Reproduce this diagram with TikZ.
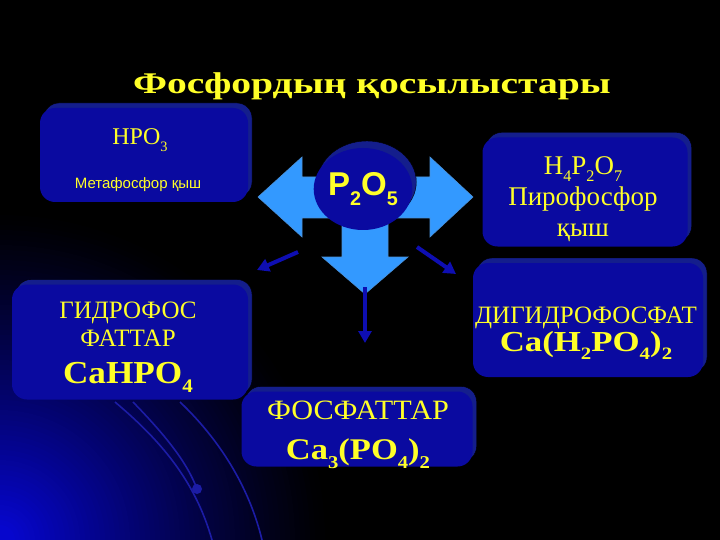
\documentclass[tikz,border=0pt]{standalone}
\usepackage{fontspec}
\setmainfont{Liberation Serif}
\setsansfont{Liberation Sans}
\usepackage{graphicx}
\usetikzlibrary{shapes.geometric,shadows,arrows.meta}

\definecolor{boxblue}{RGB}{10,10,160}
\definecolor{shadeblue}{RGB}{20,30,140}
\definecolor{arrowblue}{RGB}{51,153,255}
\definecolor{darkarrow}{RGB}{14,14,178}
\definecolor{textyellow}{RGB}{255,255,40}
\definecolor{glowblue}{RGB}{6,6,205}
\definecolor{lineblue}{RGB}{28,28,165}

\newcommand{\chsub}[1]{\raisebox{-0.28em}{\scalebox{0.6}{#1}}}
\newcommand{\wide}[2]{\scalebox{#1}[1]{#2}}

\tikzset{
  box/.style={rectangle, rounded corners=15pt, fill=boxblue, inner sep=0pt,
    copy shadow={shadow xshift=4pt, shadow yshift=5pt, fill=shadeblue}},
  boxtext/.style={text=textyellow, align=center, inner sep=0pt},
  smallarrow/.style={darkarrow, line width=4pt, -{Triangle[length=12pt,width=13pt]}},
  decoline/.style={lineblue, line width=1.6pt}
}

\begin{document}
\begin{tikzpicture}[x=1pt,y=-1pt]
\useasboundingbox (0,0) rectangle (720,540);
\fill[black] (0,0) rectangle (720,540);
% glow in the lower left corner
\begin{scope}
\clip (0,0) rectangle (720,540);
\foreach \i in {0,...,63} {
  \pgfmathsetmacro{\rad}{330-5*\i}
  \pgfmathsetmacro{\pct}{100*(\i/63)^1.2}
  \fill[glowblue!\pct!black] (0,540) circle[radius=\rad pt];
}
\end{scope}

% background lines
\draw[decoline] (115,402) .. controls (160,440) and (195,480) .. (212,540);
\draw[decoline] (133,402) .. controls (165,435) and (187,462) .. (197,489);
\draw[decoline] (180,402) .. controls (222,442) and (250,490) .. (262,540);
\fill[lineblue] (197,489) circle[radius=5pt];

% title
\node[text=textyellow, font=\bfseries\fontsize{30}{34}\selectfont] (title) at (372,86)
  {\wide{1.32}{Фосфордың қосылыстары}};

% boxes
\node[box, minimum width=208pt, minimum height=94pt] (hpo) at (144,155) {};
\node[box, minimum width=205pt, minimum height=109pt] (pyro) at (585,192) {};
\node[box, minimum width=236pt, minimum height=115pt] (hydro) at (130,342) {};
\node[box, minimum width=231pt, minimum height=75pt] (phos) at (357,429) {};
\node[box, minimum width=230pt, minimum height=114pt] (dihydro) at (588,320) {};

% three-way arrow
\filldraw[fill=arrowblue, draw=arrowblue!70!gray, line width=0.6pt]
  (258,197) -- (302,157) -- (302,177) -- (430,177) -- (430,157) -- (473,197)
  -- (430,237) -- (430,218) -- (388,218) -- (388,257) -- (408,257) -- (365,294)
  -- (322,257) -- (342,257) -- (342,218) -- (302,218) -- (302,237) -- cycle;

\node[ellipse, fill=boxblue, minimum width=98pt, minimum height=82pt, inner sep=0pt,
  copy shadow={shadow xshift=4pt, shadow yshift=7pt, fill=shadeblue},
  text=textyellow, font=\sffamily\bfseries\fontsize{33}{36}\selectfont]
  (oxide) at (363,189) {P\chsub{2}O\chsub{5}};

% small arrows
\coordinate (lefttail) at (298,252);
\coordinate (lefthead) at (257,270);
\coordinate (righttail) at (417,247);
\coordinate (righthead) at (456,274);
\coordinate (downtail) at (365,287);
\coordinate (downhead) at (365,343);
\draw[smallarrow] (lefttail) -- (lefthead);
\draw[smallarrow] (righttail) -- (righthead);
\draw[smallarrow] (downtail) -- (downhead);

% texts
\node[boxtext, font=\fontsize{24}{28}\selectfont] (hpoformula) at (140,140) {HPO\chsub{3}};
\node[boxtext, font=\sffamily\fontsize{15}{18}\selectfont] (hponame) at (138,185) {Метафосфор қыш};
\node[boxtext, font=\fontsize{27}{31}\selectfont] (pyrotext) at (583,199)
  {H\chsub{4}P\chsub{2}O\chsub{7}\\Пирофосфор\\қыш};
\node[boxtext, font=\fontsize{25}{28}\selectfont] (hydrotext) at (128,347)
  {ГИДРОФОС\\ФАТТАР\\[9pt]{\bfseries\fontsize{32}{28}\selectfont\wide{1.1}{CaHPO\chsub{4}}}};
\node[boxtext, font=\fontsize{28}{30}\selectfont] (phostext) at (358,435)
  {\wide{1.08}{ФОСФАТТАР}\\[10pt]{\bfseries\fontsize{30}{30}\selectfont\wide{1.15}{Ca\chsub{3}(PO\chsub{4})\chsub{2}}}};
\node[boxtext, font=\fontsize{25}{26}\selectfont] (dihydrotext) at (586,333)
  {ДИГИДРОФОСФАТ\\[2pt]{\bfseries\fontsize{29}{26}\selectfont\wide{1.2}{Ca(H\chsub{2}PO\chsub{4})\chsub{2}}}};
\end{tikzpicture}
\end{document}
